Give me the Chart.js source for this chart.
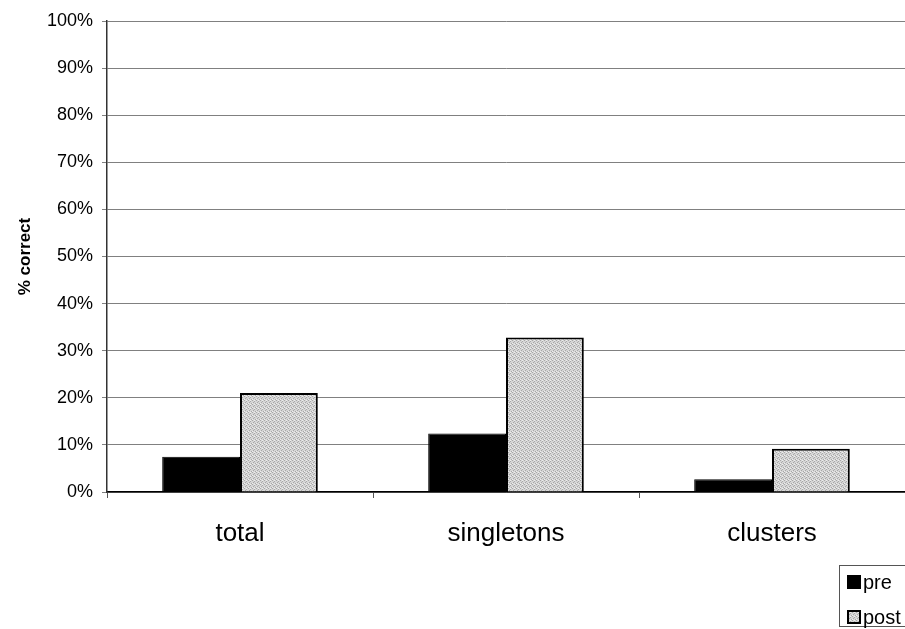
<!DOCTYPE html>
<html><head><meta charset="utf-8">
<script src="https://cdn.jsdelivr.net/npm/chart.js@4/dist/chart.umd.min.js"></script>
<style>html,body{margin:0;padding:0;background:#fff;}#wrap{width:905px;height:629px;}</style>
</head><body><div id="wrap"><canvas id="c" width="905" height="629"></canvas></div>
<script>
const categories = ["total", "singletons", "clusters"];
const seriesNames = ["pre", "post"];
const preValues = [7.5, 12.4, 2.7];
const postValues = [21.0, 32.8, 9.2];
const yTicks = [0,10,20,30,40,50,60,70,80,90,100];

function makePattern(){
  const p = document.createElement('canvas'); p.width = 4; p.height = 4;
  const g = p.getContext('2d');
  g.fillStyle = '#d6d6d6'; g.fillRect(0,0,4,4);
  g.fillStyle = '#a8a8a8';
  g.fillRect(0,0,1,1); g.fillRect(2,1,1,1); g.fillRect(1,2,1,1); g.fillRect(3,3,1,1);
  g.fillStyle = '#eeeeee';
  g.fillRect(2,0,1,1); g.fillRect(0,3,1,1);
  return document.getElementById('c').getContext('2d').createPattern(p,'repeat');
}
const postFill = makePattern();

const legendBox = {
  id: 'legendBox',
  afterDraw(chart){
    const ctx = chart.ctx;
    ctx.save();
    ctx.strokeStyle = '#555'; ctx.lineWidth = 1;
    ctx.strokeRect(839.5, 565.5, 70, 61);
    ctx.font = '20px Arial, "Liberation Sans", sans-serif';
    ctx.textBaseline = 'middle'; ctx.fillStyle = '#000';
    chart.data.datasets.forEach((ds, i) => {
      const y = 582 + i*35;
      ctx.fillStyle = ds.backgroundColor;
      ctx.fillRect(847, y-7, 14, 14);
      ctx.strokeStyle = '#000'; ctx.lineWidth = i ? 2 : 1;
      ctx.strokeRect(i ? 848 : 847.5, i ? y-6 : y-6.5, i ? 12 : 13, i ? 12 : 13);
      ctx.fillStyle = '#000';
      ctx.fillText(ds.label, 863, y+1);
    });
    ctx.restore();
  }
};

new Chart(document.getElementById('c'), {
  type: 'bar',
  data: {
    labels: categories,
    datasets: [
      { label: seriesNames[0], data: preValues, backgroundColor: '#000000', borderColor: '#000000', borderWidth: 1 },
      { label: seriesNames[1], data: postValues, backgroundColor: postFill, borderColor: '#000000', borderWidth: 2 }
    ]
  },
  options: {
    responsive: false,
    animation: false,
    layout: { padding: { top: 21, right: 0, left: 0, bottom: 0 } },
    datasets: { bar: { categoryPercentage: 0.585, barPercentage: 1.0 } },
    plugins: { legend: { display: false }, tooltip: { enabled: false } },
    scales: {
      x: {
        afterFit(s){ s.height = 137; },
        grid: { drawOnChartArea: false, drawTicks: true, tickLength: 6, color: '#555', offset: true },
        border: { color: '#000', width: 1.5 },
        ticks: { color: '#000', padding: 20, font: { family: 'Arial, "Liberation Sans", sans-serif', size: 26 } }
      },
      y: {
        min: 0, max: 100,
        afterFit(s){ s.width = 107; },
        afterBuildTicks(s){ s.ticks = yTicks.map(v => ({ value: v })); },
        grid: { color: '#808080', lineWidth: 1, tickLength: 5, drawTicks: true },
        border: { color: '#333', width: 1.5 },
        ticks: { color: '#000', padding: 9, font: { family: 'Arial, "Liberation Sans", sans-serif', size: 18 }, callback: v => v + '%' },
        title: { display: true, text: '% correct', color: '#000', padding: { top: 15, bottom: 0 }, font: { family: 'Arial, "Liberation Sans", sans-serif', size: 17, weight: 'bold' } }
      }
    }
  },
  plugins: [legendBox]
});
</script></body></html>
